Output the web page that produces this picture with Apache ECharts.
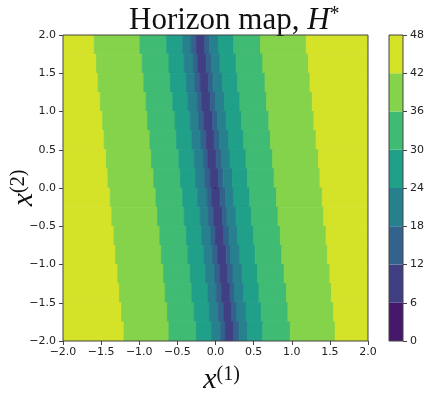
<!DOCTYPE html>
<html>
<head>
<meta charset="utf-8">
<script src="https://cdn.jsdelivr.net/npm/echarts@6/dist/echarts.min.js"></script>
<style>
html, body { margin: 0; padding: 0; background: #fff; }
#chart { width: 424px; height: 395px; }
</style>
</head>
<body>
<div id="chart"></div>
<script>
// contour levels of H*
var levels = [0, 6, 12, 18, 24, 30, 36, 42, 48];
// x2 edges of the strips, top to bottom
var rowEdges = [2.0, 1.75, 1.5, 1.25, 1.0, 0.75, 0.5, 0.25, 0.0, -0.25, -0.5, -0.75, -1.0, -1.25, -1.5, -1.75, -2.0];
// x1 where H* crosses a level, one value per strip
var left42 = [-1.59, -1.56, -1.54, -1.51, -1.48, -1.46, -1.43, -1.41, -1.38, -1.36, -1.33, -1.31, -1.28, -1.26, -1.23, -1.20];
var left36 = [-0.99, -0.96, -0.94, -0.91, -0.89, -0.86, -0.84, -0.81, -0.78, -0.76, -0.73, -0.71, -0.68, -0.66, -0.63, -0.61];
var left30 = [-0.64, -0.61, -0.59, -0.56, -0.53, -0.51, -0.48, -0.46, -0.43, -0.41, -0.38, -0.36, -0.33, -0.31, -0.28, -0.25];
var left24 = [-0.43, -0.41, -0.38, -0.36, -0.33, -0.31, -0.28, -0.26, -0.23, -0.20, -0.18, -0.15, -0.13, -0.10, -0.08, -0.05];
var left18 = [-0.32, -0.29, -0.27, -0.24, -0.22, -0.19, -0.16, -0.14, -0.11, -0.09, -0.06, -0.04, -0.01, 0.01, 0.04, 0.07];
var left12 = [-0.25, -0.23, -0.20, -0.18, -0.15, -0.12, -0.10, -0.07, -0.05, -0.02, 0.00, 0.03, 0.06, 0.08, 0.11, 0.13];
var right12 = [-0.14, -0.12, -0.09, -0.07, -0.04, -0.02, 0.01, 0.04, 0.06, 0.09, 0.11, 0.14, 0.16, 0.19, 0.21, 0.24];
var right18 = [-0.08, -0.05, -0.03, 0.00, 0.03, 0.05, 0.08, 0.10, 0.13, 0.15, 0.18, 0.20, 0.23, 0.25, 0.28, 0.31];
var right24 = [0.04, 0.06, 0.09, 0.12, 0.14, 0.17, 0.19, 0.22, 0.24, 0.27, 0.29, 0.32, 0.35, 0.37, 0.40, 0.42];
var right30 = [0.24, 0.27, 0.29, 0.32, 0.34, 0.37, 0.40, 0.42, 0.45, 0.47, 0.50, 0.52, 0.55, 0.57, 0.60, 0.62];
var right36 = [0.59, 0.62, 0.65, 0.67, 0.70, 0.72, 0.75, 0.77, 0.80, 0.82, 0.85, 0.87, 0.90, 0.93, 0.95, 0.98];
var right42 = [1.19, 1.22, 1.24, 1.27, 1.29, 1.32, 1.35, 1.37, 1.40, 1.42, 1.45, 1.47, 1.50, 1.52, 1.55, 1.57];
// the tiny 0-6 spot at the bottom of the valley
var minSpot = [[0.0, 0.0]];
// axis ticks
var axisTicks = [-2.0, -1.5, -1.0, -0.5, 0.0, 0.5, 1.0, 1.5, 2.0];

// viridis, one colour per band
var palette = ['#46176a', '#413f84', '#33628d', '#27808e', '#20a088', '#40bb73', '#84d34a', '#d4e228'];

var edges = [left42, left36, left30, left24, left18, left12, right12, right18, right24, right30, right36, right42];
var bandOf = [7, 6, 5, 4, 3, 2, 1, 2, 3, 4, 5, 6, 7];

var cells = [];
for (var j = 0; j < rowEdges.length - 1; j++) {
  var xs = [axisTicks[0]];
  for (var k = 0; k < edges.length; k++) xs.push(edges[k][j]);
  xs.push(axisTicks[axisTicks.length - 1]);
  for (var s = 0; s < xs.length - 1; s++) {
    cells.push([xs[s], xs[s + 1], rowEdges[j], rowEdges[j + 1], bandOf[s]]);
  }
}

function renderCell(params, api) {
  var a = api.coord([api.value(0), api.value(2)]);
  var b = api.coord([api.value(1), api.value(3)]);
  var c = palette[api.value(4)];
  return {
    type: 'rect',
    shape: { x: a[0], y: a[1], width: b[0] - a[0], height: b[1] - a[1] },
    style: { fill: c, stroke: c, lineWidth: 0.8 }
  };
}

var tickFont = { color: '#222', fontFamily: 'DejaVu Sans', fontSize: 11 };
function fmt(v) { return v.toFixed(1).replace('-', '\u2212'); }
var serif = 'Liberation Serif';
var nameRich = {
  i: { fontFamily: serif, fontStyle: 'italic', fontWeight: 'normal', fontSize: 30, color: '#111' },
  s: { fontFamily: serif, fontWeight: 'normal', fontSize: 20, color: '#111', verticalAlign: 'top' }
};
var xNameRich = {
  i: Object.assign({}, nameRich.i, { padding: [0, 0, 0, 12] }),
  s: nameRich.s
};

var bandSeries = [];
for (var i = 0; i < palette.length; i++) {
  bandSeries.push({
    type: 'bar', xAxisIndex: 1, yAxisIndex: 1, stack: 'cb', barWidth: '100%',
    data: [levels[i + 1] - levels[i]], itemStyle: { color: palette[i] }, silent: true
  });
}

var chart = echarts.init(document.getElementById('chart'), null, { renderer: 'canvas' });
chart.setOption({
  animation: false,
  backgroundColor: '#fff',
  tooltip: { show: false },
  axisPointer: { show: false },
  title: {
    text: '{n|Horizon map, }{h|H}{s|*}',
    left: 124, top: 0,
    textStyle: {
      fontWeight: 'normal',
      rich: {
        n: { fontFamily: serif, fontSize: 31, fontWeight: 'normal', color: '#111' },
        h: { fontFamily: serif, fontSize: 31, fontWeight: 'normal', fontStyle: 'italic', color: '#111' },
        s: { fontFamily: serif, fontSize: 20, fontWeight: 'normal', color: '#111', verticalAlign: 'top' }
      }
    }
  },
  grid: [
    { left: 63, top: 35, width: 305, height: 306, outerBoundsMode: 'none', containLabel: false, show: true, z: 10, backgroundColor: 'transparent', borderColor: '#444', borderWidth: 1 },
    { left: 389, top: 35, width: 14, height: 306, outerBoundsMode: 'none', containLabel: false, show: true, z: 10, backgroundColor: 'transparent', borderColor: '#444', borderWidth: 1 }
  ],
  xAxis: [
    {
      type: 'value', gridIndex: 0, min: -2, max: 2, interval: 0.5,
      axisLine: { show: false, onZero: false }, splitLine: { show: false },
      axisTick: { show: true, length: 4, lineStyle: { color: '#444' } },
      axisLabel: Object.assign({ margin: 6, formatter: fmt }, tickFont),
      name: '{i|x}{s|(1)}', nameLocation: 'middle', nameGap: 24, nameMoveOverlap: false,
      nameTextStyle: { rich: xNameRich }
    },
    { type: 'category', gridIndex: 1, data: [''], show: false }
  ],
  yAxis: [
    {
      type: 'value', gridIndex: 0, min: -2, max: 2, interval: 0.5,
      axisLine: { show: false, onZero: false }, splitLine: { show: false },
      axisTick: { show: true, length: 4, lineStyle: { color: '#444' } },
      axisLabel: Object.assign({ margin: 7, formatter: fmt }, tickFont),
      name: '{i|x}{s|(2)}', nameLocation: 'middle', nameGap: 24, nameRotate: 90, nameMoveOverlap: false,
      nameTextStyle: { rich: nameRich }
    },
    {
      type: 'value', gridIndex: 1, min: 0, max: 48, interval: 6, position: 'right',
      axisLine: { show: false }, splitLine: { show: false },
      axisTick: { show: true, length: 4, lineStyle: { color: '#444' } },
      axisLabel: Object.assign({ margin: 7 }, tickFont)
    }
  ],
  series: [
    {
      type: 'custom', xAxisIndex: 0, yAxisIndex: 0, clip: true,
      renderItem: renderCell, encode: { x: [0, 1], y: [2, 3] },
      data: cells, silent: true
    },
    {
      type: 'scatter', xAxisIndex: 0, yAxisIndex: 0, symbolSize: 2,
      itemStyle: { color: palette[0] }, data: minSpot, silent: true
    }
  ].concat(bandSeries)
});
</script>
</body>
</html>
